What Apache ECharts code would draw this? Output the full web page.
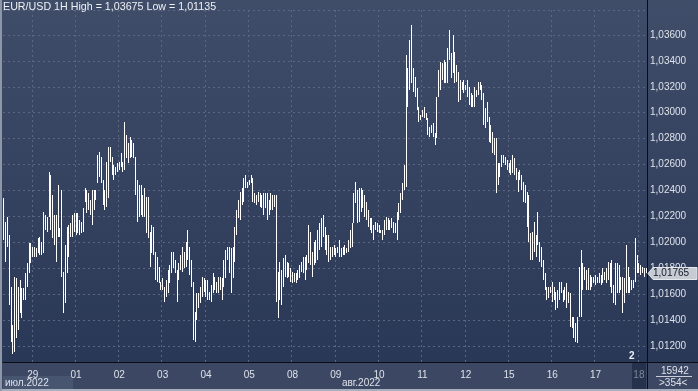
<!DOCTYPE html>
<html><head><meta charset="utf-8">
<script src="https://cdn.jsdelivr.net/npm/echarts@6/dist/echarts.min.js"></script>
<style>html,body{margin:0;padding:0;background:#34415d;}#c{width:698px;height:391px;}</style>
</head><body><div id="c"></div>
<script>
// [high, low] per hourly bar, grouped by day
const jul28 = [[1.02339,1.02018],[1.02159,1.01851],[1.02198,1.01966],[1.02057,1.01516],[1.01658,1.01233],[1.01362,1.01135],[1.01735,1.01156],[1.01722,1.01259],[1.01658,1.01323],[1.01709,1.01452],[1.01645,1.01413],[1.01645,1.01555],[1.01761,1.01555],[1.01838,1.01658],[1.01992,1.01761],[1.01992,1.01838]];
const jul29 = [[1.01966,1.01889],[1.01966,1.01889],[1.01954,1.01889],[1.02031,1.01915],[1.02044,1.01902],[1.02005,1.01902],[1.02237,1.01915],[1.02211,1.02095],[1.02198,1.02082],[1.02545,1.02198],[1.02519,1.02095],[1.02365,1.02031],[1.02211,1.01979],[1.02211,1.01851],[1.02442,1.02044],[1.02108,1.02044],[1.02404,1.01735],[1.01774,1.01452],[1.01979,1.01529],[1.02121,1.01761],[1.02134,1.01890],[1.02147,1.02044],[1.02211,1.02044],[1.02224,1.02082]];
const aug01 = [[1.02224,1.02057],[1.02224,1.02070],[1.02172,1.02057],[1.02159,1.02070],[1.02262,1.02082],[1.02417,1.02314],[1.02404,1.02224],[1.02378,1.02250],[1.02327,1.02211],[1.02404,1.02134],[1.02404,1.02250],[1.02404,1.02327],[1.02674,1.02455],[1.02700,1.02507],[1.02661,1.02455],[1.02481,1.02288],[1.02404,1.02250],[1.02622,1.02275],[1.02738,1.02339],[1.02738,1.02622],[1.02661,1.02520],[1.02596,1.02481],[1.02584,1.02520],[1.02609,1.02545]];
const aug02 = [[1.02622,1.02558],[1.02686,1.02584],[1.02622,1.02545],[1.02931,1.02558],[1.02828,1.02648],[1.02764,1.02609],[1.02815,1.02648],[1.02790,1.02661],[1.02764,1.02648],[1.02661,1.02365],[1.02481,1.02160],[1.02442,1.02198],[1.02442,1.02211],[1.02365,1.02198],[1.02417,1.02198],[1.02352,1.02070],[1.02352,1.02031],[1.02082,1.01812],[1.02134,1.01915],[1.02121,1.01902],[1.01928,1.01709],[1.01889,1.01697],[1.01812,1.01684],[1.01697,1.01632]];
const aug03 = [[1.01722,1.01632],[1.01658,1.01542],[1.01709,1.01581],[1.01786,1.01606],[1.01825,1.01683],[1.01928,1.01761],[1.01928,1.01800],[1.01863,1.01761],[1.01786,1.01542],[1.01838,1.01709],[1.01902,1.01786],[1.01966,1.01773],[1.01928,1.01800],[1.02005,1.01812],[1.02095,1.01863],[1.01966,1.01748],[1.01863,1.01658],[1.01696,1.01246],[1.01465,1.01233],[1.01606,1.01400],[1.01606,1.01490],[1.01658,1.01529],[1.01735,1.01581],[1.01722,1.01619]];
const aug04 = [[1.01709,1.01581],[1.01709,1.01555],[1.01619,1.01555],[1.01670,1.01542],[1.01761,1.01606],[1.01735,1.01632],[1.01696,1.01606],[1.01735,1.01606],[1.01735,1.01632],[1.01722,1.01555],[1.01863,1.01658],[1.01941,1.01722],[1.01966,1.01863],[1.01966,1.01761],[1.01954,1.01606],[1.01966,1.01722],[1.02121,1.01850],[1.02250,1.02057],[1.02326,1.02185],[1.02391,1.02172],[1.02417,1.02288],[1.02494,1.02314],[1.02519,1.02417],[1.02468,1.02417]];
const aug05 = [[1.02481,1.02442],[1.02519,1.02455],[1.02494,1.02314],[1.02378,1.02301],[1.02365,1.02288],[1.02391,1.02314],[1.02378,1.02275],[1.02365,1.02262],[1.02378,1.02211],[1.02378,1.02262],[1.02378,1.02172],[1.02326,1.02211],[1.02378,1.02250],[1.02365,1.02250],[1.02365,1.02275],[1.02365,1.01542],[1.01773,1.01413],[1.01850,1.01555],[1.01786,1.01516],[1.01876,1.01658],[1.01902,1.01735],[1.01850,1.01722],[1.01838,1.01735],[1.01799,1.01696]];
const aug08 = [[1.01773,1.01683],[1.01761,1.01696],[1.01761,1.01683],[1.01786,1.01709],[1.01825,1.01722],[1.01850,1.01773],[1.01889,1.01761],[1.01889,1.01709],[1.01902,1.01786],[1.02134,1.01838],[1.02082,1.01825],[1.01928,1.01735],[1.02005,1.01825],[1.02018,1.01838],[1.02095,1.01863],[1.02147,1.01941],[1.02185,1.01966],[1.02211,1.02044],[1.02121,1.01941],[1.02057,1.01902],[1.02057,1.01851],[1.01967,1.01864],[1.01967,1.01890],[1.01980,1.01902]];
const aug09 = [[1.01954,1.01890],[1.01967,1.01915],[1.02018,1.01890],[1.01954,1.01890],[1.01967,1.01902],[1.01980,1.01902],[1.01954,1.01915],[1.02018,1.01928],[1.02095,1.01954],[1.02147,1.01967],[1.02378,1.02147],[1.02468,1.02301],[1.02404,1.02147],[1.02417,1.02160],[1.02417,1.02237],[1.02404,1.02263],[1.02365,1.02198],[1.02314,1.02172],[1.02250,1.02121],[1.02185,1.02095],[1.02185,1.02070],[1.02134,1.02018],[1.02160,1.02095],[1.02147,1.02082]];
const aug10 = [[1.02134,1.02070],[1.02095,1.02070],[1.02095,1.02018],[1.02172,1.02057],[1.02198,1.02095],[1.02185,1.02095],[1.02172,1.02095],[1.02185,1.02108],[1.02160,1.02070],[1.02147,1.02070],[1.02237,1.02018],[1.02301,1.02172],[1.02378,1.02224],[1.02455,1.02327],[1.02597,1.02404],[1.03446,1.02430],[1.03343,1.03047],[1.03561,1.03176],[1.03675,1.03227],[1.03343,1.03163],[1.03278,1.03124],[1.03188,1.03021],[1.03047,1.02931],[1.02983,1.02944]];
const aug11 = [[1.03021,1.02970],[1.03047,1.02957],[1.02996,1.02944],[1.02957,1.02828],[1.02893,1.02815],[1.02906,1.02841],[1.02918,1.02815],[1.02841,1.02751],[1.03124,1.02803],[1.03330,1.03124],[1.03394,1.03176],[1.03381,1.03253],[1.03407,1.03227],[1.03394,1.03227],[1.03497,1.03227],[1.03639,1.03407],[1.03458,1.03266],[1.03600,1.03304],[1.03471,1.03227],[1.03368,1.03240],[1.03317,1.03085],[1.03253,1.03098],[1.03240,1.03176],[1.03253,1.03150]];
const aug12 = [[1.03214,1.03176],[1.03253,1.03124],[1.03201,1.03060],[1.03150,1.03047],[1.03137,1.03047],[1.03201,1.03047],[1.03176,1.03124],[1.03240,1.03137],[1.03240,1.03176],[1.03214,1.03098],[1.03150,1.02906],[1.03034,1.02880],[1.03086,1.02931],[1.02970,1.02777],[1.02906,1.02764],[1.02854,1.02687],[1.02803,1.02674],[1.02803,1.02378],[1.02610,1.02442],[1.02610,1.02507],[1.02674,1.02584],[1.02674,1.02610],[1.02661,1.02597],[1.02635,1.02558]];
const aug15 = [[1.02610,1.02532],[1.02635,1.02520],[1.02674,1.02532],[1.02648,1.02520],[1.02571,1.02481],[1.02545,1.02391],[1.02558,1.02481],[1.02520,1.02404],[1.02468,1.02314],[1.02442,1.02301],[1.02391,1.02121],[1.02365,1.02005],[1.02069,1.01864],[1.02082,1.01864],[1.02159,1.01928],[1.02057,1.01890],[1.02237,1.01980],[1.02005,1.01851],[1.01967,1.01812],[1.01864,1.01709],[1.01761,1.01632],[1.01658,1.01555],[1.01658,1.01568],[1.01658,1.01607]];
const aug16 = [[1.01697,1.01542],[1.01658,1.01555],[1.01620,1.01478],[1.01632,1.01491],[1.01697,1.01555],[1.01697,1.01607],[1.01632,1.01542],[1.01658,1.01555],[1.01684,1.01491],[1.01620,1.01530],[1.01607,1.01350],[1.01427,1.01337],[1.01427,1.01260],[1.01375,1.01234],[1.01427,1.01221],[1.01812,1.01427],[1.01941,1.01427],[1.01838,1.01632],[1.01812,1.01710],[1.01787,1.01632],[1.01800,1.01632],[1.01748,1.01632],[1.01735,1.01658],[1.01735,1.01684]];
const aug17 = [[1.01748,1.01671],[1.01735,1.01684],[1.01761,1.01684],[1.01748,1.01671],[1.01800,1.01684],[1.01774,1.01710],[1.01800,1.01684],[1.01851,1.01710],[1.01838,1.01658],[1.01864,1.01607],[1.01671,1.01529],[1.01838,1.01517],[1.01838,1.01607],[1.01825,1.01607],[1.01735,1.01632],[1.01735,1.01452],[1.01722,1.01529],[1.01979,1.01607],[1.01812,1.01607],[1.01735,1.01607],[1.01710,1.01632],[1.01710,1.01645],[1.02030,1.01697],[1.01903,1.01761]];
const aug18 = [[1.01838,1.01761],[1.01825,1.01748],[1.01812,1.01761],[1.01800,1.01735],[1.01800,1.01765]];

const dayBars   = [jul28, jul29, aug01, aug02, aug03, aug04, aug05, aug08, aug09, aug10, aug11, aug12, aug15, aug16, aug17, aug18];
const dayLabels = ['',   '29',  '01',  '02',  '03',  '04',  '05',  '08',  '09',  '10',  '11',  '12',  '15',  '16',  '17',  '18'];
const lastPrice = 1.01765;
const titleText = 'EUR/USD 1H High = 1,03675 Low = 1,01135';
const monthLabels = ['июл.2022', 'авг.2022'];
const yMin = 1.010765, yMax = 1.037929;

const cats = [], rows = [], startLabel = {};
dayBars.forEach((bars, d) => {
  bars.forEach((b, h) => {
    const i = cats.length;
    if (h === 0 && dayLabels[d]) startLabel[i] = dayLabels[d];
    cats.push(d + '-' + h);
    rows.push([i, b[1], b[0]]);
  });
});
const isStart = (idx) => startLabel[idx] !== undefined;
const fmt = v => v.toFixed(5).replace('.', ',');

const chart = echarts.init(document.getElementById('c'), null, {renderer: 'canvas'});
const F = 'Liberation Sans, Arial, sans-serif';
const baseGraphics = [
  {id: 'bg', type: 'rect', z: -10, silent: true, shape: {x: 0, y: 0, width: 698, height: 362},
    style: {fill: new echarts.graphic.LinearGradient(0, 0, 0, 1, [{offset: 0, color: '#404d69'}, {offset: 1, color: '#2a3857'}])}},
  {id: 'strip', type: 'rect', z: -10, silent: true, shape: {x: 0, y: 362, width: 698, height: 29}, style: {fill: '#3c4863'}},
  {id: 'mbox', type: 'rect', z: -9, silent: true, shape: {x: 3, y: 376, width: 70, height: 13}, style: {fill: '#485570'}},
  {id: 'dbox', type: 'rect', z: -9, silent: true, shape: {x: 632, y: 363, width: 14, height: 26}, style: {fill: '#26324b'}},
  {id: 'bb', type: 'rect', z: 10, silent: true, shape: {x: 0, y: 389, width: 698, height: 2}, style: {fill: '#a9b0bd'}},
  {id: 'lb', type: 'rect', z: 10, silent: true, shape: {x: 0, y: 0, width: 2, height: 391}, style: {fill: '#8e97a8'}},
  {id: 'hl', type: 'line', z: 10, silent: true, shape: {x1: 647, y1: 362.5, x2: 698, y2: 362.5}, style: {stroke: '#0a0d14', lineWidth: 1}},
  {id: 'vl', type: 'line', z: 10, silent: true, shape: {x1: 647.5, y1: 0, x2: 647.5, y2: 389}, style: {stroke: '#0a0d14', lineWidth: 1}},
  {id: 'title', type: 'text', z: 10, silent: true, left: 3, top: 2, style: {text: titleText, fill: '#eef1f5', font: '10.7px ' + F}},
  {id: 'm0', type: 'text', z: 10, silent: true, left: 5, top: 378, style: {text: monthLabels[0], fill: '#dde2ea', font: '10px ' + F}},
  {id: 'm1', type: 'text', z: 10, silent: true, left: 342, top: 378, style: {text: monthLabels[1], fill: '#dde2ea', font: '10px ' + F}},
  {id: 'two', type: 'text', z: 10, silent: true, left: 629, top: 351, style: {text: '2', fill: '#eef1f5', font: 'bold 10px ' + F}},
  {id: 'cnt', type: 'text', z: 10, silent: true, left: 661, top: 366, style: {text: '15942', fill: '#dde2ea', font: '10px ' + F}},
  {id: 'cl', type: 'line', z: 10, silent: true, shape: {x1: 656, y1: 376.5, x2: 692, y2: 376.5}, style: {stroke: '#c9ced8', lineWidth: 1}},
  {id: 'cnt2', type: 'text', z: 10, silent: true, left: 659, top: 378, style: {text: '>354<', fill: '#dde2ea', font: '10px ' + F}}
];
chart.setOption({
  animation: false,
  backgroundColor: 'transparent',
  grid: {left: 3, right: 51, top: 10, bottom: 29},
  xAxis: {
    type: 'category', data: cats, boundaryGap: true,
    axisLine: {show: true, lineStyle: {color: '#0a0d14', width: 1}},
    axisTick: {show: false},
    axisLabel: {
      interval: (idx) => isStart(idx), margin: 8,
      formatter: (v, idx) => startLabel[idx] === '18' ? '{d|18}' : (startLabel[idx] || ''),
      color: '#dde2ea', fontSize: 10, fontFamily: F,
      rich: {d: {color: '#7c879c', fontSize: 10, fontFamily: F}}
    },
    splitLine: {show: true, interval: (idx) => isStart(idx), lineStyle: {color: '#5b6782', type: [2, 3], width: 1}}
  },
  yAxis: {
    type: 'value', position: 'right', min: yMin, max: yMax, splitNumber: 14, scale: true,
    axisLine: {show: true, lineStyle: {color: '#0a0d14', width: 1}},
    axisTick: {show: false},
    axisLabel: {formatter: fmt, color: '#dde2ea', fontSize: 10, fontFamily: F, margin: 3, showMinLabel: false, showMaxLabel: false},
    splitLine: {show: true, lineStyle: {color: '#5b6782', type: [2, 3], width: 1}}
  },
  graphic: baseGraphics,
  series: [{
    type: 'custom',
    data: rows,
    encode: {x: 0, y: [1, 2]},
    clip: true,
    renderItem: (params, api) => {
      const i = api.value(0);
      const lo = api.coord([i, api.value(1)]);
      const hi = api.coord([i, api.value(2)]);
      const x = Math.floor(lo[0]);
      return {type: 'rect', shape: {x: x, y: Math.round(hi[1]), width: 1, height: Math.max(1, Math.round(lo[1]) - Math.round(hi[1]))}, style: {fill: '#ffffff'}};
    }
  }]
});

// current-price tag on the right axis, positioned through the y scale
const py = Math.round(chart.convertToPixel({yAxisIndex: 0}, lastPrice)) + 0.5;
chart.setOption({
  graphic: baseGraphics.concat([
    {id: 'tag', type: 'polygon', z: 20, silent: true,
      shape: {points: [[648, py], [653, py - 6], [697, py - 6], [697, py + 6], [653, py + 6]]},
      style: {fill: '#c7ccd4', stroke: '#e4e7ec', lineWidth: 1}},
    {id: 'tagt', type: 'text', z: 21, silent: true, left: 653, top: py - 5.5,
      style: {text: fmt(lastPrice), fill: '#121826', font: '10px ' + F}}
  ])
});
</script>
</body></html>
